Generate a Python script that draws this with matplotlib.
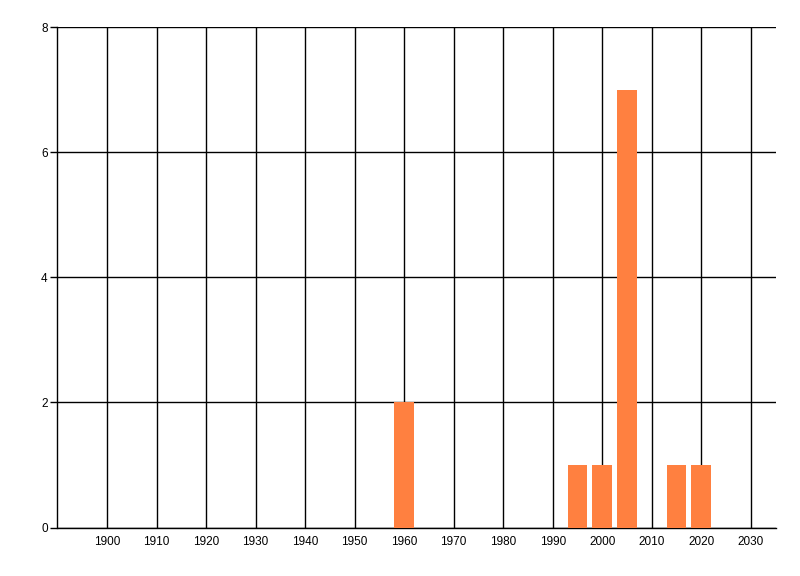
import numpy as np
import matplotlib
matplotlib.use('Agg')
import matplotlib.pyplot as plt

years = [1960, 1995, 2000, 2005, 2015, 2020]
counts = [2, 1, 1, 7, 1, 1]
xticks = list(range(1900, 2031, 10))
yticks = [0, 2, 4, 6, 8]

plt.rcParams['font.family'] = ['Liberation Sans', 'DejaVu Sans']

fig = plt.figure(figsize=(8, 5.76), dpi=100)
ax = fig.add_axes([57.5/800, 1 - 527.5/576, (775.5-57.5)/800, (527.5-27)/576])

ax.bar(years, counts, width=4, color='#FF8040', zorder=3)

ax.set_xlim(1890, 2035)
ax.set_ylim(0, 8)
ax.set_xticks(xticks)
ax.set_yticks(yticks)
ax.grid(True, color='black', lw=1, zorder=0)
ax.set_axisbelow(True)

for s in ['top', 'right']:
    ax.spines[s].set_visible(False)
for s in ['left', 'bottom']:
    ax.spines[s].set_linewidth(1)
ax.tick_params(axis='x', length=0, pad=6, labelsize=8.5)
ax.tick_params(axis='y', length=5, width=1, pad=2, labelsize=8.5)

fig.savefig('out.png', dpi=100)
